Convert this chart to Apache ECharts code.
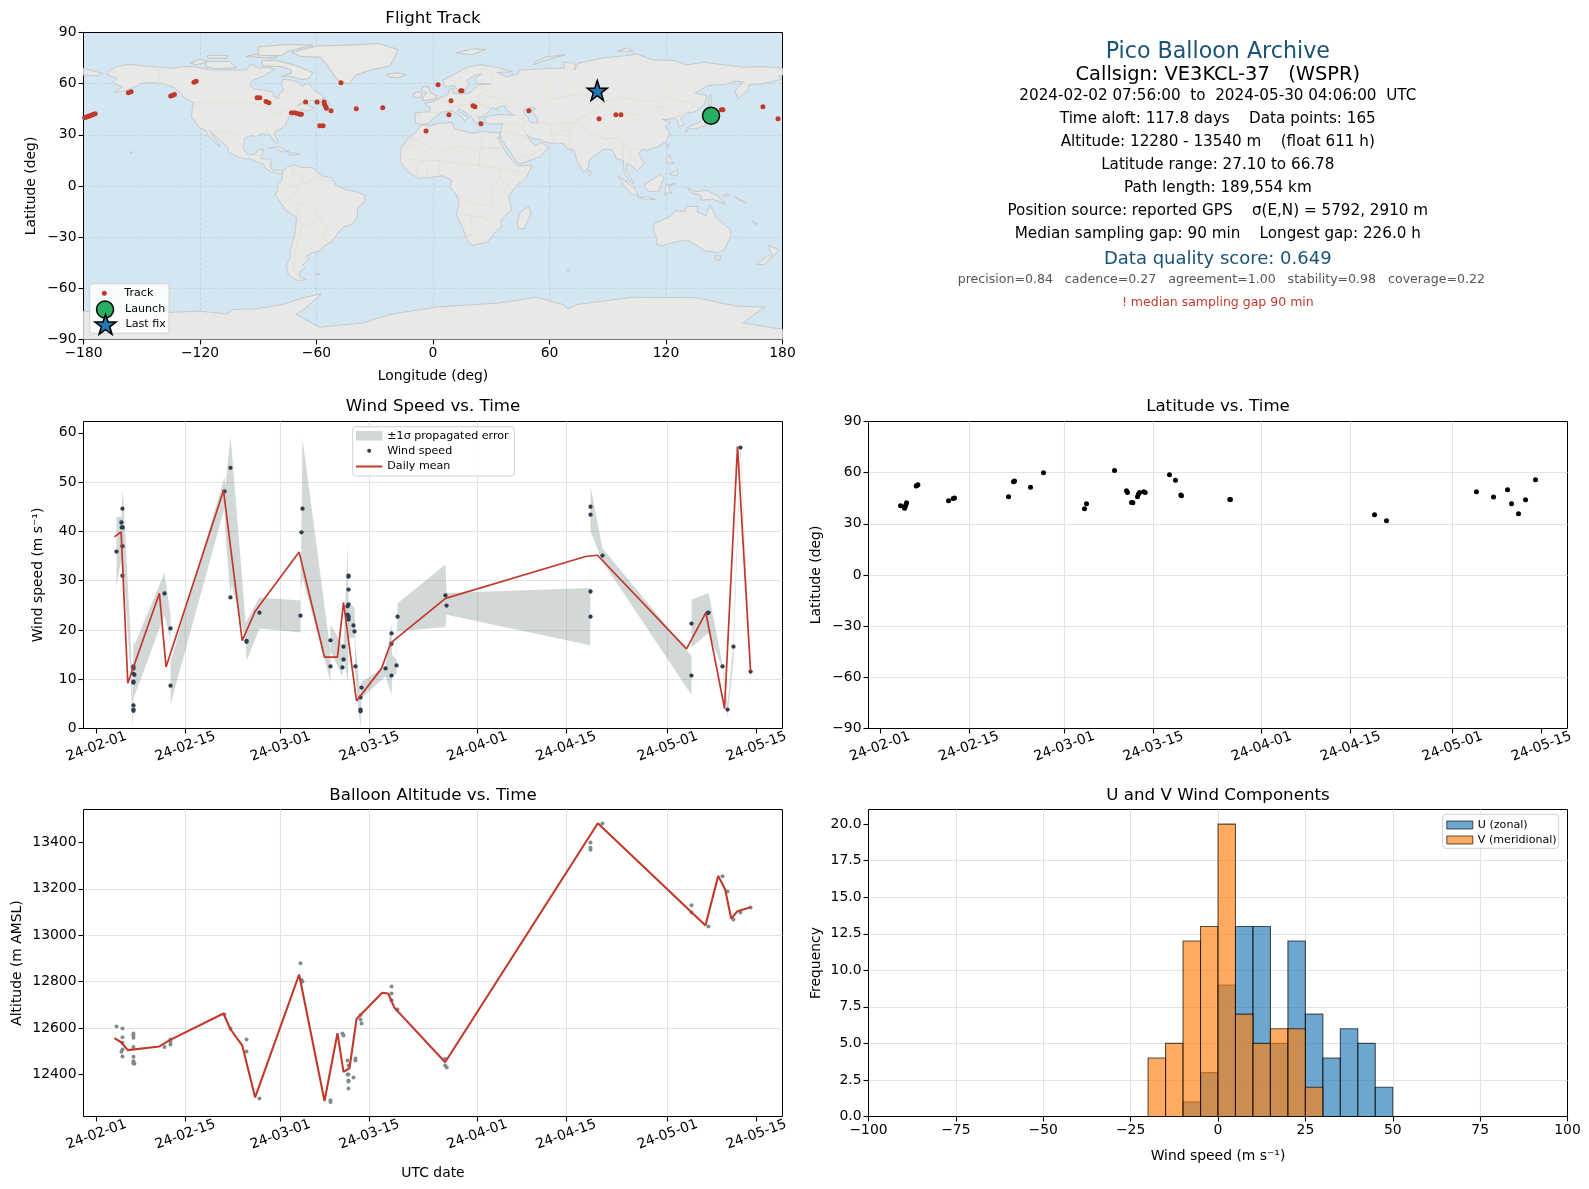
<!DOCTYPE html>
<html><head><meta charset="utf-8">
<style>html,body{margin:0;padding:0;background:#fff}#c{width:1589px;height:1189px}</style>
<script src="https://cdn.jsdelivr.net/npm/echarts@6/dist/echarts.min.js"></script>
</head><body><div id="c"></div>
<script>
// ---------- DATA ----------
const dateTickDays=[0,14,29,43,60,74,90,104];
const lonTicks=[-180,-120,-60,0,60,120,180];
const latTicks=[-90,-60,-30,0,30,60,90];
const windTicks=[0,10,20,30,40,50,60];
const altTicks=[12400,12600,12800,13000,13200,13400];
const freqTicks=[0,2.5,5,7.5,10,12.5,15,17.5,20];
const compTicks=[-100,-75,-50,-25,0,25,50,75,100];

const trackLon=[-179.4,-178.5,-177.7,-176.8,-175.9,-175.1,-174,-156.9,-155.5,-135.1,-134.2,-133.2,-123.1,-122,-90.6,-89.2,-86,-84.5,-72.9,-71.2,-69.8,-68.6,-67.8,-65.6,-59.7,-56.1,-55.8,-55.3,-54.9,-52.5,-39.5,-25.9,-58.3,-56.6,-47.4,2.6,-3.6,14.3,14.9,9.3,8.2,20.6,21.6,24.7,49.4,85.5,94.2,96.8,148.5,149.3,169.9,177.7];
const trackLat=[40,40.4,40.8,41.2,41.5,41.9,42.4,54.7,55.3,52.7,53.1,53.7,60.9,61.4,51.8,51.8,49.6,48.8,42.9,42.9,42.5,42.1,42.1,49.2,49.2,49.2,47.8,46.6,45.6,44.1,45.3,45.9,35.3,35.3,60.6,59.4,32.3,55.9,55.9,50,41.8,47.1,46.5,36.5,44.1,39.4,41.8,41.8,44.7,44.7,46.5,39.4];
const launchPoint=[143.2,41.2];
const lastFixPoint=[84.6,56];

const windDays=[3.15,3.93,3.99,4.14,4.09,4.09,4.09,5.82,5.82,5.82,5.98,5.82,5.82,5.82,5.82,5.82,10.72,11.66,11.66,20.17,21.11,21.11,23.64,23.64,25.68,32.14,32.3,32.46,36.87,36.87,38.92,38.92,38.76,39.71,39.71,39.71,39.71,39.56,39.56,39.71,39.71,39.71,40.5,40.66,40.81,41.76,41.6,41.6,41.6,45.55,46.49,46.49,46.49,47.28,47.44,54.99,55.16,77.85,77.85,77.85,77.85,79.73,93.76,93.76,96.44,96.28,98.65,99.44,100.37,101.47,103.07];
const windSpeed=[35.9,41.8,40.8,40.8,44.6,37,31,12.6,12.2,11.1,10.9,9.5,9.3,4.7,3.8,3.6,27.4,20.3,8.7,48.1,52.9,26.6,17.8,17.6,23.5,22.9,39.8,44.6,17.9,12.6,16.6,14,12.4,30.8,31,28.2,25.2,24.8,23.1,22.8,22.4,22.1,20.9,19.7,12.6,8.3,6.3,3.8,3.5,12.2,10.75,17.2,19.3,12.8,22.7,27,24.95,45,43.4,27.8,22.7,35.1,21.3,10.75,23.5,23.4,12.6,3.85,16.6,57,11.56];
const dailyDays=[2.83,3.88,4.93,9.91,10.96,20.01,22.96,25,31.93,35.93,37.97,38.92,40.97,44.92,46.13,46.81,54.99,77.06,78.95,92.98,96.02,98.97,101.01,103.07];
const dailyWind=[38.9,39.9,9.2,27.45,12.5,48.3,17.85,23.8,35.8,14.47,14.47,25.6,5.6,12.2,16.5,17.85,26.4,34.9,35.16,16.16,23.5,4.06,57.2,11.56];
const bandDays=[3.15,3.93,4.09,4.25,5.3,5.72,5.82,5.98,10.72,11.66,11.67,20.17,20.32,21.11,21.32,23.53,23.64,25.68,32.14,32.2,32.46,36.87,36.88,38.76,38.92,39.61,39.71,40.66,40.81,41.6,41.76,45.55,46.49,46.58,47.28,47.44,54.99,55.16,77.79,77.85,79.73,93.76,93.77,96.44,98.65,99.44,100.37,101.47,103.07];
const bandHigh=[42.9,42.9,48.5,46.1,20.4,6.2,18.05,17,31.6,23.1,13.7,51,49.2,59.4,56.3,21.1,21.8,26.6,26,32,58.8,15.7,21.1,17,17,37,25.5,24.5,17,6.8,9.5,12.6,21.6,15,14,25.4,33.3,27.5,28.5,49.2,36.6,14.7,26.2,27.5,13,4.9,17.7,57.9,12.3];
const bandLow=[28.7,34.6,28.9,31.9,12.3,0,6.2,6.6,23.1,17.7,4.9,44.8,39.4,26.8,29.2,17.7,13.7,20.3,19.5,28,30.6,9.5,15.7,10.5,14.3,9.3,18.4,18.4,10.3,0,6.2,10.6,6.8,10.8,11,19.7,20.6,23.1,16.9,40,33.9,6.8,16.5,19.4,12.3,2.2,14,55.9,8.6];

const latDays=[3.25,3.88,3.98,4.09,4.19,5.71,5.81,5.97,10.79,11.52,11.73,20.22,21,21.16,23.68,25.72,32.16,32.48,36.88,38.76,38.92,39.55,39.76,40.49,40.65,40.81,41.49,41.7,45.52,46.46,47.3,47.4,55,55.1,77.75,79.63,93.77,96.45,98.65,99.28,100.38,101.48,103.05];
const latValues=[40.6,39.2,40.2,41.2,42.4,52.2,52.5,52.9,43.5,44.9,45.1,45.9,54.7,55.1,51.4,60,38.8,41.8,61.2,49.4,48.4,42.5,42.4,45.9,47.5,48.4,48.8,48.4,58.8,55.5,46.9,46.5,44.3,44.3,35.3,31.8,48.8,45.7,50,41.8,35.9,44.1,55.9];

const altDays=[3.15,4.09,4.09,4.09,4.09,3.93,4.09,5.82,5.82,5.82,5.82,5.82,5.82,5.82,5.98,10.72,11.66,11.66,11.66,20.17,21.11,23.64,23.64,25.68,32.14,32.3,32.46,36.87,36.87,38.76,38.92,39.56,39.71,39.56,39.71,39.71,39.71,39.71,40.5,40.81,40.81,41.6,41.6,41.76,46.49,46.49,46.49,47.33,47.43,54.94,54.94,55.2,77.84,77.84,77.84,79.73,93.76,93.76,96.44,98.65,99.44,100.37,101.47,103.07];
const altValues=[12607,12598,12560,12537,12508,12498,12478,12577,12568,12558,12519,12476,12457,12449,12446,12519,12551,12541,12529,12659,12598,12551,12499,12297,12879,12807,12801,12289,12281,12577,12568,12460,12439,12400,12400,12374,12370,12340,12387,12469,12460,12656,12637,12620,12779,12749,12720,12680,12680,12468,12439,12430,13400,13377,13369,13482,13129,13098,13038,13254,13189,13068,13098,13120];
const dailyAltDays=[2.83,3.88,4.93,9.91,11.61,20.01,21.11,22.96,25,31.93,35.93,37.97,38.92,39.87,40.97,45.02,45.96,46.96,54.94,79,95.96,97.97,99.07,100.01,101.01,103.07];
const dailyAlt=[12557,12539,12505,12521,12549,12663,12595,12526,12301,12831,12286,12578,12411,12427,12639,12752,12749,12687,12453,13483,13042,13256,13197,13072,13104,13121];

const binStart=[-20,-15,-10,-5,0,5,10,15,20,25,30,35,40,45];
const uCounts=[0,0,1,3,9,13,13,5,12,7,4,6,5,2];
const vCounts=[4,5,12,13,20,7,5,6,6,2,0,0,0,0];

// coarse coastlines, lon/lat pairs
const land=[
[[-168,65.5],[-166,68.3],[-162,70.3],[-156.5,71.3],[-150,70.5],[-141,69.7],[-135,69],[-128,70],[-122,69.8],[-115,68],[-108,68],[-102,68],[-96,68],[-94,71.5],[-90,69],[-85,69.5],[-81.5,68.5],[-85,66],[-87,64.5],[-93,62],[-94.5,59],[-92.5,57],[-88,56.5],[-82.5,55.2],[-82,52.5],[-79.5,51.3],[-79,54.5],[-77,56],[-78,59],[-77.5,62.5],[-73,62],[-69.5,61],[-67.5,58.5],[-64.5,60.3],[-61,56],[-57,53],[-56,51.5],[-60,50],[-66,50],[-70,47],[-65,49],[-64.5,47],[-61,46],[-63,44.7],[-66,43.8],[-67,45],[-70,43.5],[-70.5,41.7],[-74,40.5],[-75.5,37.5],[-76,35],[-78,33.8],[-81,32],[-81.5,30],[-80,26.8],[-80.5,25.2],[-81.8,26],[-82.8,28],[-84,30],[-86,30.4],[-89,30.2],[-91,29.2],[-94,29.5],[-97,28],[-97.5,25],[-97.8,22.3],[-96,19],[-94,18.2],[-91.5,18.6],[-90.5,21],[-87,21.5],[-88,18.2],[-88.8,16],[-84,15.8],[-83.3,14.8],[-83.7,11],[-82,9],[-79.5,9.5],[-77.3,8.5],[-78,7.3],[-80,7.3],[-81.5,7.8],[-83.5,8.5],[-85.8,10],[-87.5,13],[-91,14],[-94,16],[-97,15.9],[-101.5,17.5],[-105.5,20],[-105.5,22.5],[-109,26],[-112.5,30],[-114.7,31.7],[-113,28.5],[-110,24],[-109.5,23],[-112,25],[-115,28.5],[-116,30.5],[-117.2,32.6],[-120.5,34.5],[-122.5,37.5],[-124.3,40.3],[-124,46],[-123,49],[-127.5,51],[-130,54.5],[-134,58],[-139,60],[-146,60.8],[-151,60],[-152,59],[-158,56],[-164.5,54.6],[-160,58],[-165,60.5],[-163,63]],
[[-73,78.2],[-68,76],[-58,75.5],[-54,70],[-51,65],[-48,61],[-43,60],[-40,65],[-32,68],[-22,70.5],[-20,75],[-18,80],[-28,83.5],[-45,82.5],[-60,82]],
[[-80,73.5],[-72,71],[-67,69],[-62,66.5],[-64,63],[-68,62.5],[-72,64],[-78,64.5],[-73,66],[-73,68],[-78,70],[-88,70.5],[-88,73.5]],
[[-117,73],[-105,73],[-101,69.5],[-112,68.7],[-117,70]],
[[-125,72],[-120,74.3],[-116,73],[-122,71.2]],
[[-90,76.5],[-78,76.5],[-75,79],[-62,82.5],[-75,83],[-90,81.5]],
[[-96,76],[-82,75],[-80,76],[-92,77]],
[[-116,75],[-106,75],[-106,76.5],[-116,76.5]],
[[-59,47.8],[-53,47],[-55.5,51.5]],
[[-85,22],[-80,23.2],[-74.2,20.2],[-77.5,19.9],[-82,22.5]],
[[-74,19.8],[-68.5,18.7],[-71,18],[-74.4,18.4]],
[[-77.3,8.5],[-75,11],[-71.5,12.4],[-68,11],[-62,10.7],[-57,6],[-52,4.5],[-50,0.5],[-44,-2.5],[-39,-3.5],[-35,-5.5],[-35,-9],[-39,-13],[-39,-18],[-41,-22],[-46,-24],[-48.5,-27],[-52,-32.5],[-57,-36],[-57.5,-38],[-62,-39],[-65,-41],[-64,-43],[-67,-46],[-66,-48],[-69,-51],[-68.5,-53],[-65,-55],[-70,-55.3],[-74.5,-52],[-75.5,-47],[-73.5,-42],[-73.5,-37],[-71.5,-30],[-70.5,-22],[-70.3,-18.3],[-76,-14],[-79.5,-8],[-81.3,-5],[-80,-2.5],[-80,0.8],[-78,3],[-77.5,6]],
[[-6,35.8],[-2,35.2],[3,36.8],[10,37.3],[11,33.5],[15,32.3],[20,31],[25,32],[32,31.2],[34.5,31.2],[34.5,28.2],[33,28.5],[34,27],[37,21],[38.5,18],[43,12],[51,12],[48,5],[42,-1],[39,-6],[40.5,-14],[35,-20],[35.5,-24],[32.8,-26],[28,-33],[20,-34.8],[18,-32.5],[14.5,-22.5],[12,-17],[13.5,-10],[12,-5],[9,-1],[9.5,3.5],[5,6],[-2,5],[-7.5,4.5],[-13,8.5],[-17,14.5],[-16.5,19],[-17,21.5],[-13,27.5],[-10,30]],
[[-9,37],[-9.3,43],[-2,43.5],[-1.2,46],[-4.5,48.4],[0,49.5],[4,52],[8,54],[8.5,57],[10.5,57.5],[10,54.5],[14,54],[19,54.5],[21,57],[24,59.5],[30,60],[23,60],[21.5,63],[25,65.5],[21.5,65],[17.5,62],[18.5,59.5],[16,56],[13,55.5],[11,59],[6,58],[5,62],[12,66],[18,70],[25,71],[31,70],[41,67],[33,66.5],[38,64],[44,66],[44,68],[54,68.5],[60,69],[68,69],[67,72.5],[73,72],[73,68],[75,72],[81,73.5],[87,75],[100,76.5],[105,77.5],[113,74],[125,73.5],[130,71],[140,72.5],[150,71],[160,69.7],[170,70],[180,69],[180,65],[178,64.5],[179.5,62.5],[170,60],[163,59.5],[162,56],[157,51],[155.5,56],[160,61],[156,61.5],[150,59.5],[142,59],[135,54.5],[141,53],[140,48],[135,43.5],[130,42.5],[127.5,39.5],[129.5,36],[126.5,34.5],[126,37.5],[124.5,40],[121,39],[118,39],[122.5,37],[119.5,35],[122,31],[120,26],[116,23],[110,21],[108,21.5],[105.8,19],[109,13],[105,9],[103,11],[100,13.5],[99.5,9],[103.5,1.5],[101,3],[98.5,8],[98,15],[94.5,16],[92.5,21],[89,21.8],[87,21],[80.5,15.5],[80,11],[77.5,8],[74,15],[72.7,21],[69,22],[67,25],[61,25.2],[57,25.7],[56,27],[51,28],[48.5,30],[50,26.5],[51.5,25],[53,24],[56,25.5],[59.5,22.5],[55,17],[45,13],[43,14],[39,21],[35,28],[34.5,31],[36,36.5],[30,36.3],[27,37],[26.5,40],[29,41],[35,42],[41.5,41.5],[38,44.5],[37,47],[33,46],[33.5,44.5],[30.5,46],[28,43],[26,40.7],[23,40],[24,38],[22.5,36.5],[19.5,41],[13.5,45.5],[12.5,44],[18.5,40],[16,38],[15.5,40],[10,44],[4,43.3],[3,41.7],[0,39.5],[-2,36.8],[-5.5,36]],
[[-180,69],[-175,67.5],[-170,66],[-173,64.5],[-180,65]],
[[-5.5,50],[1.5,51.2],[1.7,52.7],[-1,54.5],[-2,56],[-2,57.7],[-5,58.5],[-6,56],[-3,54.5],[-4.5,53],[-5,51.7]],
[[-10,52],[-6,52],[-5.7,54.5],[-8,55.2],[-10,54]],
[[-24,65.5],[-18,66.3],[-14,65],[-18,63.5],[-22.5,64]],
[[12,78],[20,80.3],[27,80],[20,77]],
[[52,71],[56,73],[68,77],[58,75.5],[53,73]],
[[95,79],[103,79],[100,81]],
[[130.5,31.5],[131.7,33.5],[135.5,33.7],[140,35.2],[141.5,38.5],[141.5,41],[140,40.5],[137,37],[133,35.5],[130.5,33.8]],
[[140,42],[141.5,45.3],[145.3,43.5],[143,42]],
[[142,46],[143.5,49],[143,54],[142,52]],
[[120,16],[122,18.5],[122.2,16],[124,13],[121,13.8]],
[[122,7],[126,9.7],[126,6.5],[124,6]],
[[120.2,23],[121.5,25.2],[121,22]],
[[95.3,5.6],[100,2],[104,-1.5],[106,-5.8],[102,-4.5],[98.5,0]],
[[105.3,-6.5],[110,-6.5],[114.5,-7.8],[110,-8.2]],
[[109,1],[112,3],[117,7],[119,5],[117.5,1],[116,-3.5],[111,-3],[109,-0.5]],
[[119.5,-5.5],[120,0.5],[125,1.5],[121,-0.5],[123,-4.5],[121,-3.5]],
[[131,-1],[135,-3.3],[141,-2.6],[147,-6],[150.5,-10.5],[144,-7.7],[138,-8.3],[138,-5.5],[133,-4]],
[[114,-22],[122,-18],[125,-14.5],[129.5,-15],[131,-12],[136.5,-12],[136,-15],[140.5,-17.5],[142.5,-11],[146,-18.5],[153,-25.5],[153.5,-29],[150,-37.5],[146.5,-39],[140,-38],[136,-35],[131,-31.7],[124,-33],[118,-35],[115,-34.5],[115.5,-31],[113.5,-26]],
[[144.8,-41],[148.3,-41],[147.5,-43.5],[146,-43.5]],
[[172.8,-34.5],[178.4,-37.7],[175,-41.5],[174,-39]],
[[172.7,-40.6],[174.3,-41.7],[170.5,-46.2],[166.5,-46],[170,-43]],
[[49.3,-12],[50.5,-16],[47,-25],[44,-25],[43.5,-21],[44.5,-16]],
[[80,9.7],[81.8,7.5],[80.5,6],[79.8,8]],
[[164,-20],[167,-22.3],[166,-22.5]],
[[150,-5],[152,-4.5],[152,-6],[149,-6]],
[[155,-6],[160,-9],[161,-10],[157,-8]],
[[-61,-51.5],[-58,-51.5],[-59,-52.2]],
[[69,-49],[70.3,-49.3],[69.5,-49.8]],
[[-156,20.2],[-155,19.8],[-155.7,19]],
[[-180,-73.4],[-161,-74.4],[-144,-74.4],[-120,-73.4],[-106.3,-75],[-103,-72.4],[-91,-72],[-77,-69.4],[-67,-65.5],[-57.5,-63.2],[-65.5,-71.4],[-70.5,-75.3],[-58.5,-82.8],[-36,-80.3],[-22.5,-75.4],[1.5,-71],[34,-68.6],[53,-65.2],[67,-69.5],[69.5,-72],[74,-69.5],[103,-65.2],[135.6,-65.5],[156,-70.4],[170.8,-71],[159.7,-80.3],[180,-84],[180,-90],[-180,-90]]
];
const northernIslands=land.slice(1,8).concat([land[15],land[16],land[17],land[18],land[19],land[20]]);
const inlandWater=[[[47,45],[51,46.5],[53,45],[51,44],[53.5,40],[54,37],[50,37.3],[49,40],[47,43]]];
const borders=[
[[-123,49],[-95,49],[-89,48],[-83,46],[-82.5,42],[-79,43],[-75,45],[-71,45],[-69,47.3],[-67,45]],
[[-141,69.7],[-141,60],[-135,59],[-130,55]],
[[-117.2,32.6],[-114.7,32.6],[-108,31.5],[-106,31.7],[-101,29.5],[-97.2,26]],
[[-92,14.6],[-91,17.8],[-89,17.9],[-88.2,18]],
[[-71.5,12],[-72.5,7],[-67.5,6],[-67,1],[-70,0],[-70,-4],[-74,-7.5],[-71,-10],[-69,-11],[-65,-10],[-60,-14],[-58,-20],[-54.5,-25.5],[-57.5,-30],[-53.5,-33.5]],
[[-80,-3.5],[-75.5,0],[-70,0]],[[-70.3,-18.3],[-69,-11]],[[-69.5,-18],[-67.5,-23],[-70,-33],[-72,-50],[-68.5,-53]],[[-67.5,-23],[-62.5,-22],[-58,-20]],[[-60,5],[-60,8.5]],[[-67,1],[-60,5],[-52,3]],
[[-9,27.7],[-3,30],[-1,32],[-2,35]],[[-13,27.7],[-9,27.7],[-5,25],[3,19],[12,23.5],[25,20],[25,31.5]],[[25,22],[36.8,22]],[[9,30],[11.5,33]],[[-17,21],[-6,25]],[[-16.5,16],[-5,15],[3.5,15],[14,13],[24,12],[24,20]],[[14,13],[9,4.5]],[[24,12],[35,10],[48,8]],[[35,10],[34,4],[41,-2]],[[34,4],[30,-1],[30,-11],[22,-11],[13,-6]],[[34,-1],[40,-4.5]],[[30,-11],[35,-17]],[[12,-17],[25,-18],[33,-22]],[[20,-18],[20,-29],[17,-29]],[[-8,4.5],[-8,10],[-5,15]],[[3,6.3],[3.5,15]],[[-3,5],[-3,11]],
[[-2,43.4],[3,42.5]],[[-7,37.2],[-7,42],[-9,42]],[[2.5,51],[8,49],[7.5,47.5],[10,46.5],[14,46.5],[17,48],[22,48.5],[28,45.5]],[[7,53.5],[6,51],[8,49]],[[14,54],[15,51],[18,49.5],[22.5,49]],[[24,59],[28,56],[24,54],[23,51],[24,48],[30,46]],[[24,54],[32,52],[40,49.5],[38,47]],[[28,56],[32,52]],[[18,69.5],[12,61],[11,59]],[[28,70],[24,66],[21.5,65]],[[30,60],[30,69.5]],[[22,41],[27,42],[28,42]],
[[41.5,41.5],[48,41.5],[47.5,43]],[[50,45],[61,51],[75,54],[83,51],[87,49],[98,52],[107,50],[117,50],[120,53],[127,50],[135,48],[131,43],[130,42.5]],[[87,49],[80,42],[74,39],[77,35],[79,31],[88,28],[97,28],[98,24],[102,22],[108,21.5]],[[87,49],[96,43],[105,41.5],[112,45],[120,47],[117,50]],[[54,42],[55,37],[61,36],[61,30],[63,26]],[[61,36],[66,37],[74,37]],[[61,30],[70,33],[74,37]],[[70,33],[71,28],[69,24]],[[44.5,39.5],[48,38],[46,34],[48.5,30]],[[36,36.5],[44.5,37],[46,34]],[[39,32],[46,29.5],[48.5,29]],[[35,32],[39,32],[42,37]],[[52,24],[56,22],[52,19],[45,17],[43,14]],[[88,28],[92,25],[94,22],[92.5,21]],[[98,24],[98,16]],[[102,22],[101,18],[105,14],[103,11]],[[124.5,40],[128,42],[130,42.5]],[[126,38],[129,38.5]]
];
const infoLines=[
 ['Pico Balloon Archive',52.5,22.2,'#1a5276',1217.8],
 ['Callsign: VE3KCL-37   (WSPR)',75,19.4,'#000',1217.8],
 ['2024-02-02 07:56:00  to  2024-05-30 04:06:00  UTC',96.5,15.2,'#000',1217.8],
 ['Time aloft: 117.8 days    Data points: 165',119.5,15.2,'#000',1217.8],
 ['Altitude: 12280 - 13540 m    (float 611 h)',142,15.2,'#000',1217.8],
 ['Latitude range: 27.10 to 66.78',165.5,15.2,'#000',1217.8],
 ['Path length: 189,554 km',188.5,15.2,'#000',1217.8],
 ['Position source: reported GPS    σ(E,N) = 5792, 2910 m',211.5,15.2,'#000',1217.8],
 ['Median sampling gap: 90 min    Longest gap: 226.0 h',234.5,15.2,'#000',1217.8],
 ['Data quality score: 0.649',259,18,'#1a5276',1217.8],
 ['precision=0.84   cadence=0.27   agreement=1.00   stability=0.98   coverage=0.22',279.5,12.57,'#555',1221.3],
 ['! median sampling gap 90 min',302.5,12.5,'#c0392b',1217.8]
];

// ---------- HELPERS ----------
const FONT='"DejaVu Sans"';
const at=d=>Date.UTC(2024,1,1)+d*864e5;
const pairs=(xs,ys)=>xs.map((x,i)=>[at(x),ys[i]]);
const minus=v=>String(v).replace('-','\u2212');
const GRIDC='#e2e2e2';
const tickFont={color:'#000',fontFamily:FONT,fontSize:13.9};
const nameFont={color:'#000',fontFamily:FONT,fontSize:13.9};
const STAR='path://M0 -10 L2.35 -3.09 L9.51 -3.09 L3.8 1.18 L5.88 8.09 L0 3.82 L-5.88 8.09 L-3.8 1.18 L-9.51 -3.09 L-2.35 -3.09 Z';

const rects={
 map:{left:83.5,top:32.5,width:699,height:307},
 wind:{left:83.5,top:421.5,width:699,height:307},
 lat:{left:868.5,top:421.5,width:699,height:307},
 alt:{left:83.5,top:809.5,width:699,height:307},
 hist:{left:868.5,top:809.5,width:699,height:307}
};
const gridOf=(r,bg)=>({left:r.left,top:r.top,width:r.width,height:r.height,show:true,borderColor:'#000',borderWidth:1,backgroundColor:bg||'transparent',containLabel:false});
function axisBase(i,ticks,fmt,extra){
 const ax=Object.assign({gridIndex:i,type:'value',
  axisLine:{show:false,onZero:false},
  axisTick:{show:true,length:5,lineStyle:{color:'#000',width:1.1},customValues:ticks},
  axisLabel:Object.assign({customValues:ticks,formatter:fmt,margin:7,hideOverlap:false},tickFont),
  splitLine:{show:true,lineStyle:{color:GRIDC,width:1.1}},
  nameTextStyle:nameFont,nameLocation:'middle'},extra);
 ax.splitLine=Object.assign({},ax.splitLine,{showMinLine:false,showMaxLine:false});
 return ax;
}
const dateVals=dateTickDays.map(at);
const dateFmt=v=>new Date(v).toISOString().slice(2,10);
function timeAxis(i,minD,maxD,name){
 const a=axisBase(i,dateVals,dateFmt,{min:at(minD),max:at(maxD),name:name||'',nameGap:50});
 a.axisLabel.rotate=20;a.axisLabel.align='center';a.axisLabel.verticalAlign='middle';a.axisLabel.margin=18;
 return a;
}
const ttl=(text,r,y)=>({text,left:r.left+r.width/2,top:y,padding:0,textAlign:'center',textStyle:{fontFamily:FONT,fontWeight:'normal',fontSize:16.67,color:'#000'}});
function polyGroup(list,style){
 return (params,api)=>{
  if(params.dataIndex!==0) return null;
  return {type:'group',children:list.map(poly=>({type:'polygon',shape:{points:poly.map(p=>api.coord(p))},style:Object.assign({},style)}))};
 };
}
function singleLegend(name,left,top,w,h,icon,item,keep){
 return {show:true,left,top,padding:0,itemWidth:w,itemHeight:h,selectedMode:false,z:101,symbolKeepAspect:keep!==false,
  textStyle:{fontFamily:FONT,fontSize:11.1,color:'#000'},
  data:[{name,icon,itemStyle:item}]};
}
const legendBox=(x,y,w,h)=>({type:'rect',z:100,silent:true,shape:{x,y,width:w,height:h,r:3},style:{fill:'rgba(255,255,255,0.85)',stroke:'#d0d0d0',lineWidth:1}});

const histRender=(fill)=>(params,api)=>{
 const v=api.value(2); if(!v) return null;
 const a=api.coord([api.value(0),v]), b=api.coord([api.value(1),0]);
 return {type:'rect',shape:{x:a[0],y:a[1],width:b[0]-a[0],height:b[1]-a[1]},
  style:{fill,stroke:'#000',lineWidth:1.1,opacity:0.65}};
};

const mapSplit={show:true,lineStyle:{color:'rgba(120,120,120,0.2)',width:0.8,type:[3,2]}};
const LAND={fill:'rgba(233,233,228,0.94)',stroke:'#c2c6c8',lineWidth:0.9};
const option={
 animation:false,backgroundColor:'#fff',
 title:[ttl('Flight Track',rects.map,10),ttl('Wind Speed vs. Time',rects.wind,398),ttl('Latitude vs. Time',rects.lat,398),ttl('Balloon Altitude vs. Time',rects.alt,787),ttl('U and V Wind Components',rects.hist,787)],
 grid:[gridOf(rects.map,'#d4e6f1'),gridOf(rects.wind),gridOf(rects.lat),gridOf(rects.alt),gridOf(rects.hist)],
 xAxis:[
  axisBase(0,lonTicks,minus,{min:-180,max:180,name:'Longitude (deg)',nameGap:29.7,splitLine:mapSplit}),
  timeAxis(1,-2.05,108.1),
  timeAxis(2,-1.79,108.08),
  timeAxis(3,-2.05,108.1,'UTC date'),
  axisBase(4,compTicks,minus,{min:-100,max:100,name:'Wind speed (m s\u207B\u00B9)',nameGap:32.7})
 ],
 yAxis:[
  axisBase(0,latTicks,minus,{min:-90,max:90,name:'Latitude (deg)',nameGap:45,splitLine:mapSplit}),
  axisBase(1,windTicks,v=>String(v),{min:0,max:62.3,name:'Wind speed (m s\u207B\u00B9)',nameGap:38}),
  axisBase(2,latTicks,minus,{min:-90,max:90,name:'Latitude (deg)',nameGap:45}),
  axisBase(3,altTicks,v=>String(v),{min:12219,max:13542,name:'Altitude (m AMSL)',nameGap:59}),
  axisBase(4,freqTicks,v=>v.toFixed(1),{min:0,max:21,name:'Frequency',nameGap:45})
 ],
 legend:[
  singleLegend('Track',101.8,287.8,30,5,'circle',{color:'#c0392b'}),
  singleLegend('Launch',95.8,300.3,30,17,'circle',{color:'#27ae60',borderColor:'#000',borderWidth:1.5,opacity:1}),
  singleLegend('Last fix',94.3,313.7,30,20,STAR,{color:'#1f77b4',borderColor:'#000',borderWidth:1.5,opacity:1}),
  singleLegend('\u00B11\u03C3 propagated error',356,430.3,26.3,9.5,'rect',{color:'#7f8c8d',opacity:0.35},false),
  singleLegend('Wind speed',367.15,445.3,26.3,4,'circle',{color:'#2c3e50',opacity:1}),
  singleLegend('Daily mean',356,461,26.3,2,'rect',{color:'#c0392b'},false),
  singleLegend('U (zonal)',1446.3,819.5,26,8,'rect',{color:'#1f77b4',opacity:0.65,borderColor:'#000',borderWidth:1}, false),
  singleLegend('V (meridional)',1446.3,834.5,26,8,'rect',{color:'#ff7f0e',opacity:0.65,borderColor:'#000',borderWidth:1}, false)
 ],
 graphic:{elements:[
  legendBox(89.7,283.8,79.3,49.4),legendBox(352.7,426.7,161.6,49.3),legendBox(1442.7,814.3,116,34),
  ...infoLines.map(l=>({type:'text',x:l[4],y:l[1],z:5,silent:true,style:{text:l[0],fill:l[3],font:l[2]+'px '+FONT,textAlign:'center',textVerticalAlign:'middle',align:'center',verticalAlign:'middle'}}))
 ]},
 series:[
  {type:'custom',name:'land',xAxisIndex:0,yAxisIndex:0,clip:true,silent:true,z:1,data:[[0,0]],
   renderItem:polyGroup(land,LAND)},
  {type:'custom',name:'northern islands',xAxisIndex:0,yAxisIndex:0,clip:true,silent:true,z:2,data:[[0,0]],
   renderItem:polyGroup(northernIslands,LAND)},
  {type:'custom',name:'borders',xAxisIndex:0,yAxisIndex:0,clip:true,silent:true,z:2,data:[[0,0]],
   renderItem:(p,api)=>({type:'group',children:borders.map(b=>({type:'polyline',shape:{points:b.map(q=>api.coord(q))},style:{fill:null,stroke:'#dcdcd8',lineWidth:0.7}}))})},
  {type:'custom',name:'inland water',xAxisIndex:0,yAxisIndex:0,clip:true,silent:true,z:2,data:[[0,0]],
   renderItem:polyGroup(inlandWater,{fill:'#d4e6f1',stroke:'#c2c6c8',lineWidth:0.9})},
  {type:'scatter',name:'Track',xAxisIndex:0,yAxisIndex:0,symbolSize:5,itemStyle:{color:'#c0392b',opacity:1},z:3,data:trackLon.map((x,i)=>[x,trackLat[i]])},
  {type:'scatter',name:'Launch',xAxisIndex:0,yAxisIndex:0,symbolSize:17,itemStyle:{color:'#27ae60',borderColor:'#000',borderWidth:1.5,opacity:1},z:4,data:[launchPoint]},
  {type:'scatter',name:'Last fix',xAxisIndex:0,yAxisIndex:0,symbol:STAR,symbolSize:20,itemStyle:{color:'#1f77b4',borderColor:'#000',borderWidth:1.5,opacity:1},z:4,data:[lastFixPoint]},

  {type:'custom',name:'\u00B11\u03C3 propagated error',xAxisIndex:1,yAxisIndex:1,clip:true,silent:true,z:1,
   encode:{x:0,y:[1,2]},data:bandDays.map((d,i)=>[at(d),bandHigh[i],bandLow[i]]),
   itemStyle:{color:'#7f8c8d',opacity:0.35},
   renderItem:(params,api)=>{
    if(params.dataIndex!==0) return null;
    const up=bandDays.map((d,i)=>api.coord([at(d),bandHigh[i]]));
    const lo=bandDays.map((d,i)=>api.coord([at(d),bandLow[i]])).reverse();
    return {type:'polygon',shape:{points:up.concat(lo)},style:{fill:'#7f8c8d',opacity:0.35}};
   }},
  {type:'scatter',name:'Wind speed',xAxisIndex:1,yAxisIndex:1,symbolSize:4.3,itemStyle:{color:'#2c3e50',opacity:1},z:3,data:pairs(windDays,windSpeed)},
  {type:'line',name:'Daily mean',xAxisIndex:1,yAxisIndex:1,showSymbol:false,lineStyle:{color:'#c0392b',width:1.7},itemStyle:{color:'#c0392b'},z:4,data:pairs(dailyDays,dailyWind)},

  {type:'scatter',name:'Latitude',xAxisIndex:2,yAxisIndex:2,symbolSize:5,itemStyle:{color:'#000',opacity:1},z:3,data:pairs(latDays,latValues)},

  {type:'scatter',name:'Altitude',xAxisIndex:3,yAxisIndex:3,symbolSize:4,itemStyle:{color:'#7f8c8d',opacity:1},z:3,data:pairs(altDays,altValues)},
  {type:'line',name:'Daily mean altitude',xAxisIndex:3,yAxisIndex:3,showSymbol:false,lineStyle:{color:'#c0392b',width:2.1},z:4,data:pairs(dailyAltDays,dailyAlt)},

  {type:'custom',name:'U (zonal)',xAxisIndex:4,yAxisIndex:4,clip:true,z:2,encode:{x:[0,1],y:2},itemStyle:{color:'#1f77b4'},
   data:binStart.map((s,i)=>[s,s+5,uCounts[i]]),renderItem:histRender('#1f77b4')},
  {type:'custom',name:'V (meridional)',xAxisIndex:4,yAxisIndex:4,clip:true,z:3,encode:{x:[0,1],y:2},itemStyle:{color:'#ff7f0e'},
   data:binStart.map((s,i)=>[s,s+5,vCounts[i]]),renderItem:histRender('#ff7f0e')}
 ]
};
const chart=echarts.init(document.getElementById('c'),null,{renderer:'canvas',width:1589,height:1189});
chart.setOption(option);
</script></body></html>
